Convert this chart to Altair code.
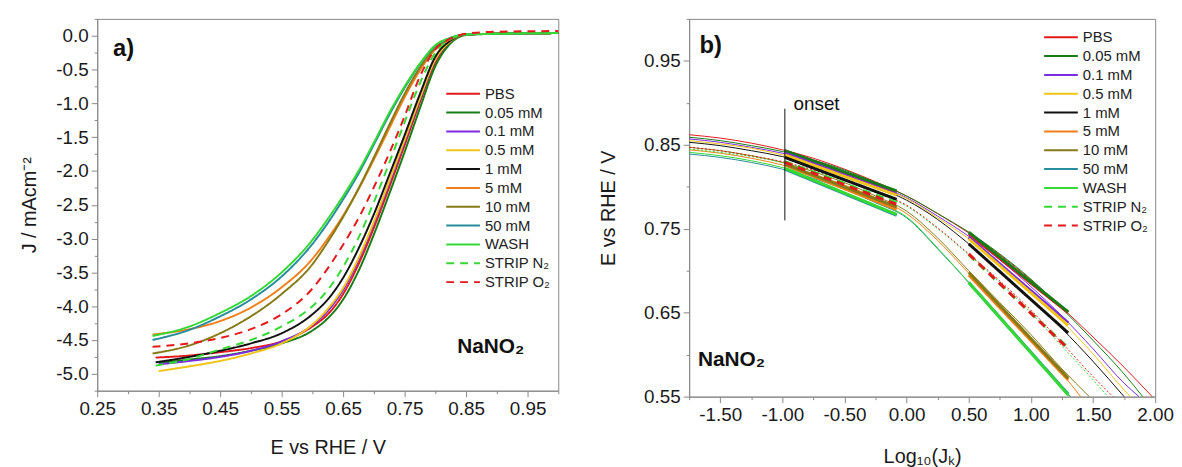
import altair as alt
import pandas as pd

FONT = "Liberation Sans"

SERIES = ["PBS", "0.05 mM", "0.1 mM", "0.5 mM", "1 mM", "5 mM", "10 mM",
          "50 mM", "WASH", "STRIP N₂", "STRIP O₂"]
COLORS = ["#e3191c", "#167d16", "#7b2be0", "#f2c418", "#111111", "#ef7f1a",
          "#857a16", "#278c9b", "#35d935", "#35d935", "#e3191c"]
DASHES = [[1, 0]] * 9 + [[8, 6], [8, 6]]

# ---------------- panel a : LSV curves ----------------
E_GRID = [0.35, 0.40, 0.45, 0.50, 0.55, 0.60, 0.625, 0.65, 0.675, 0.70,
          0.725, 0.75, 0.775, 0.80, 0.825, 0.85, 0.90, 1.00]
START_E = [0.345, 0.35, 0.35, 0.35, 0.345, 0.34, 0.34, 0.34, 0.34, 0.345, 0.34]

J_PBS = [-4.76, -4.73, -4.68, -4.62, -4.52, -4.30, -4.12, -3.82, -3.38, -2.84,
         -2.24, -1.62, -0.98, -0.40, -0.09, 0.02, 0.03, 0.04]
J_005 = [-4.84, -4.79, -4.74, -4.66, -4.55, -4.36, -4.18, -3.90, -3.48, -2.94,
         -2.34, -1.72, -1.07, -0.45, -0.11, 0.01, 0.03, 0.04]
J_01 = [-4.86, -4.81, -4.75, -4.66, -4.52, -4.28, -4.07, -3.76, -3.32, -2.78,
        -2.18, -1.57, -0.94, -0.36, -0.08, 0.02, 0.03, 0.04]
J_05 = [-4.96, -4.89, -4.81, -4.70, -4.55, -4.27, -4.04, -3.73, -3.29, -2.75,
        -2.15, -1.54, -0.92, -0.35, -0.08, 0.02, 0.03, 0.04]
J_1 = [-4.83, -4.75, -4.66, -4.55, -4.40, -4.12, -3.90, -3.58, -3.15, -2.64,
       -2.06, -1.47, -0.86, -0.31, -0.07, 0.02, 0.03, 0.04]
J_5 = [-4.42, -4.34, -4.22, -4.02, -3.72, -3.30, -3.00, -2.66, -2.27, -1.83,
       -1.37, -0.91, -0.51, -0.20, -0.05, 0.02, 0.03, 0.04]
J_10 = [-4.70, -4.58, -4.40, -4.15, -3.82, -3.38, -3.05, -2.68, -2.26, -1.80,
        -1.32, -0.86, -0.47, -0.18, -0.04, 0.02, 0.03, 0.04]
J_50 = [-4.50, -4.35, -4.15, -3.90, -3.56, -3.08, -2.77, -2.42, -2.04, -1.61,
        -1.17, -0.77, -0.42, -0.15, -0.03, 0.02, 0.03, 0.04]
J_WASH = [-4.44, -4.30, -4.10, -3.85, -3.50, -3.02, -2.71, -2.37, -2.00, -1.58,
          -1.14, -0.75, -0.41, -0.14, -0.03, 0.02, 0.03, 0.04]
J_N2 = [-4.88, -4.78, -4.64, -4.50, -4.30, -4.00, -3.76, -3.42, -2.99, -2.46,
        -1.88, -1.28, -0.70, -0.25, -0.05, 0.02, 0.03, 0.04]
J_O2 = [-4.60, -4.55, -4.47, -4.34, -4.12, -3.74, -3.44, -3.09, -2.70, -2.24,
        -1.74, -1.19, -0.60, -0.20, -0.04, 0.03, 0.06, 0.07]
J_A = [J_PBS, J_005, J_01, J_05, J_1, J_5, J_10, J_50, J_WASH, J_N2, J_O2]

# ---------------- panel b : Tafel plots ----------------
L_GRID = [-1.75, -1.5, -1.25, -1.0, -0.75, -0.5, -0.25, 0.0, 0.25, 0.5,
          0.75, 1.0, 1.25, 1.5, 1.75]
V_PBS = [0.862, 0.858, 0.852, 0.844, 0.834, 0.821, 0.806, 0.789, 0.768, 0.745,
         0.719, 0.689, 0.656, 0.621, 0.585]
V_005 = [0.859, 0.855, 0.849, 0.842, 0.832, 0.820, 0.805, 0.789, 0.768, 0.746,
         0.720, 0.690, 0.655, 0.617, 0.577]
V_01 = [0.857, 0.853, 0.847, 0.840, 0.830, 0.818, 0.803, 0.787, 0.765, 0.741,
        0.713, 0.681, 0.646, 0.607, 0.566]
V_05 = [0.855, 0.851, 0.846, 0.838, 0.829, 0.817, 0.802, 0.786, 0.763, 0.738,
        0.709, 0.676, 0.640, 0.601, 0.558]
V_1 = [0.853, 0.849, 0.843, 0.836, 0.826, 0.814, 0.800, 0.784, 0.761, 0.732,
       0.700, 0.666, 0.631, 0.592]
V_5 = [0.844, 0.840, 0.834, 0.826, 0.815, 0.802, 0.787, 0.768, 0.736, 0.697,
       0.659, 0.620, 0.578]
V_10 = [0.847, 0.843, 0.837, 0.829, 0.818, 0.805, 0.789, 0.771, 0.739, 0.700,
        0.662, 0.624, 0.583]
V_50 = [0.839, 0.835, 0.829, 0.821, 0.810, 0.797, 0.781, 0.763, 0.726, 0.686,
        0.645, 0.603, 0.561]
V_WASH = [0.841, 0.837, 0.831, 0.823, 0.812, 0.798, 0.782, 0.764, 0.727, 0.686,
          0.644, 0.601, 0.560]
V_N2 = [0.845, 0.841, 0.836, 0.829, 0.819, 0.807, 0.793, 0.777, 0.750, 0.719,
        0.686, 0.650, 0.610, 0.570]
V_O2 = [0.847, 0.843, 0.837, 0.830, 0.820, 0.808, 0.794, 0.778, 0.751, 0.720,
        0.688, 0.653, 0.614, 0.574]
V_B = [V_PBS, V_005, V_01, V_05, V_1, V_5, V_10, V_50, V_WASH, V_N2, V_O2]
# log value where each curve leaves the plot at 0.55 V
L_END = [1.976, 1.90, 1.87, 1.80, 1.75, 1.40, 1.47, 1.32, 1.31, 1.62, 1.66]
V_END = 0.55

SEG1_L = [-0.98, -0.08]
SEG2_L = [0.50, 1.30]
SEG1_V = [[0.843, 0.794], [0.843, 0.795], [0.840, 0.791], [0.838, 0.790],
          [0.835, 0.785], [0.826, 0.773], [0.827, 0.776], [0.821, 0.766],
          [0.822, 0.767], [0.830, 0.781], [0.829, 0.779]]
SEG2_V = [[0.744, 0.650], [0.746, 0.651], [0.740, 0.638], [0.738, 0.635],
          [0.732, 0.626], [0.695, 0.570], [0.698, 0.572], [0.686, 0.553],
          [0.686, 0.552], [0.719, 0.608], [0.720, 0.607]]

ONSET_L = -0.98
ONSET_V = [0.893, 0.760]

# ticks (major ticks carry labels, minor ticks are short and unlabeled)
XA_MAJOR = [0.25, 0.35, 0.45, 0.55, 0.65, 0.75, 0.85, 0.95]
XA_MINOR = [0.30, 0.40, 0.50, 0.60, 0.70, 0.80, 0.90, 1.00]
YA_MAJOR = [0.0, -0.5, -1.0, -1.5, -2.0, -2.5, -3.0, -3.5, -4.0, -4.5, -5.0]
YA_MINOR = [0.25, -0.25, -0.75, -1.25, -1.75, -2.25, -2.75, -3.25, -3.75,
            -4.25, -4.75, -5.25]
XB_MAJOR = [-1.5, -1.0, -0.5, 0.0, 0.5, 1.0, 1.5, 2.0]
XB_MINOR = [-1.75, -1.25, -0.75, -0.25, 0.25, 0.75, 1.25, 1.75]
YB_MAJOR = [0.55, 0.65, 0.75, 0.85, 0.95]
YB_MINOR = [0.60, 0.70, 0.80, 0.90, 1.00]

# ---------------- data frames ----------------
rows = []
for s, e0, js in zip(SERIES, START_E, J_A):
    es = [e0] + E_GRID[1:]
    for e, j in zip(es, js):
        rows.append({"series": s, "E": e, "J": j})
df_a = pd.DataFrame(rows)

rows = []
for s, vs, le in zip(SERIES, V_B, L_END):
    for l, v in zip(L_GRID, vs):
        rows.append({"series": s, "L": l, "V": v})
    rows.append({"series": s, "L": le, "V": V_END})
df_thin = pd.DataFrame(rows)

rows = []
for s, v1, v2 in zip(SERIES, SEG1_V, SEG2_V):
    for l, v in zip(SEG1_L, v1):
        rows.append({"series": s, "seg": "1", "L": l, "V": v})
    for l, v in zip(SEG2_L, v2):
        rows.append({"series": s, "seg": "2", "L": l, "V": v})
df_thick = pd.DataFrame(rows)

STRIPS = ["STRIP N₂", "STRIP O₂"]


def major_axis(values, fmt, title, title_pad, orient):
    label = f"(datum.value < -0.0001 ? '-' : '') + format(abs(datum.value), '{fmt}')"
    return alt.Axis(values=values, labelExpr=label, tickSize=6, orient=orient,
                    title=title, titlePadding=title_pad, labelOverlap=False,
                    labelFlush=False, grid=False)


def minor_axis(values, orient):
    return alt.Axis(values=values, labels=False, tickSize=3, orient=orient,
                    title=None, domain=False, grid=False)


def make_legend(x, y):
    return alt.Legend(title=None, orient="none", legendX=x, legendY=y,
                      symbolType="stroke", symbolSize=1156, symbolStrokeWidth=2,
                      labelFontSize=15, labelFont=FONT, labelColor="#222",
                      clipHeight=17, rowPadding=2, padding=0, labelOffset=4)


color_scale = alt.Scale(domain=SERIES, range=COLORS)
dash_scale = alt.Scale(domain=SERIES, range=DASHES)

# ---------------- panel a chart ----------------
sxa = alt.Scale(domain=[0.25, 1.0], nice=False, zero=False)
sya = alt.Scale(domain=[-5.25, 0.25], nice=False, zero=False)
leg_a = make_legend(351, 67)

lines_a = alt.Chart(df_a).mark_line(strokeWidth=2, interpolate="monotone").encode(
    x=alt.X("E:Q", scale=sxa, axis=major_axis(XA_MAJOR, ".2f", "E vs RHE / V", 19, "bottom")),
    y=alt.Y("J:Q", scale=sya, axis=major_axis(YA_MAJOR, ".1f", "J / mAcm⁻²", 17, "left")),
    color=alt.Color("series:N", scale=color_scale, legend=leg_a),
    strokeDash=alt.StrokeDash("series:N", scale=dash_scale, legend=leg_a),
)
minor_a = alt.Chart(df_a).mark_point(opacity=0).encode(
    x=alt.X("E:Q", scale=sxa, axis=minor_axis(XA_MINOR, "bottom")),
    y=alt.Y("J:Q", scale=sya, axis=minor_axis(YA_MINOR, "left")),
)

lab_a = alt.Chart(pd.DataFrame({"E": [0.2755], "J": [-0.20], "t": ["a)"]})).mark_text(
    align="left", baseline="middle", fontSize=24, fontWeight="bold", font=FONT,
    color="#111").encode(x=alt.X("E:Q", scale=sxa, axis=None),
                         y=alt.Y("J:Q", scale=sya, axis=None), text="t:N")
na_a = alt.Chart(pd.DataFrame({"E": [0.89], "J": [-4.61], "t": ["NaNO₂"]})).mark_text(
    align="center", baseline="middle", fontSize=21, fontWeight="bold", font=FONT,
    color="#111").encode(x=alt.X("E:Q", scale=sxa, axis=None),
                         y=alt.Y("J:Q", scale=sya, axis=None), text="t:N")

panel_a = alt.layer(lines_a, minor_a, lab_a, na_a).resolve_axis(
    x="independent", y="independent").properties(width=465, height=375)

# ---------------- panel b chart ----------------
sxb = alt.Scale(domain=[-1.75, 2.0], nice=False, zero=False)
syb = alt.Scale(domain=[0.55, 1.0], nice=False, zero=False)
xb_plain = alt.X("L:Q", scale=sxb, axis=None)
yb_plain = alt.Y("V:Q", scale=syb, axis=None)
leg_b = make_legend(357, 10)

thin_solid = alt.Chart(df_thin).transform_filter(
    alt.FieldOneOfPredicate(field="series", oneOf=SERIES[:9])
).mark_line(strokeWidth=1, interpolate="monotone").encode(
    x=xb_plain, y=yb_plain,
    color=alt.Color("series:N", scale=color_scale, legend=leg_b))

thin_dot = alt.Chart(df_thin).transform_filter(
    alt.FieldOneOfPredicate(field="series", oneOf=STRIPS)
).mark_line(strokeWidth=1, interpolate="monotone", strokeDash=[2, 2]).encode(
    x=xb_plain, y=yb_plain,
    color=alt.Color("series:N", scale=color_scale, legend=leg_b))

thick = alt.Chart(df_thick).mark_line(strokeWidth=3).encode(
    x=alt.X("L:Q", scale=sxb, axis=major_axis(XB_MAJOR, ".2f", "Log₁₀(Jₖ)", 22, "bottom")),
    y=alt.Y("V:Q", scale=syb, axis=major_axis(YB_MAJOR, ".2f", "E vs RHE / V", 25, "left")),
    color=alt.Color("series:N", scale=color_scale, legend=leg_b),
    strokeDash=alt.StrokeDash("series:N", scale=dash_scale, legend=leg_b),
    detail="seg:N")

minor_b = alt.Chart(df_thin).mark_point(opacity=0).encode(
    x=alt.X("L:Q", scale=sxb, axis=minor_axis(XB_MINOR, "bottom")),
    y=alt.Y("V:Q", scale=syb, axis=minor_axis(YB_MINOR, "left")),
)

onset = alt.Chart(pd.DataFrame({"L": [ONSET_L], "V": [ONSET_V[0]], "V2": [ONSET_V[1]]})
                  ).mark_rule(color="#111", strokeWidth=1).encode(
    x=xb_plain, y=yb_plain, y2="V2:Q")

onset_t = alt.Chart(pd.DataFrame({"L": [-0.91], "V": [0.899], "t": ["onset"]})).mark_text(
    align="left", baseline="middle", fontSize=19, font=FONT, color="#111").encode(
    x=xb_plain, y=yb_plain, text="t:N")
lab_b = alt.Chart(pd.DataFrame({"L": [-1.666], "V": [0.968], "t": ["b)"]})).mark_text(
    align="left", baseline="middle", fontSize=24, fontWeight="bold", font=FONT,
    color="#111").encode(x=xb_plain, y=yb_plain, text="t:N")
na_b = alt.Chart(pd.DataFrame({"L": [-1.41], "V": [0.593], "t": ["NaNO₂"]})).mark_text(
    align="center", baseline="middle", fontSize=21, fontWeight="bold", font=FONT,
    color="#111").encode(x=xb_plain, y=yb_plain, text="t:N")

panel_b = alt.layer(thin_solid, thin_dot, thick, minor_b, onset, onset_t, lab_b, na_b
                    ).resolve_axis(x="independent", y="independent"
                                   ).properties(width=470, height=381)

chart = alt.hconcat(panel_a, panel_b, spacing=35).resolve_scale(
    color="independent", strokeDash="independent"
).resolve_legend(
    color="independent", strokeDash="independent"
).properties(
    padding={"left": 10, "top": 8, "right": 0, "bottom": 0}
).configure(font=FONT).configure_view(
    stroke="#888", strokeWidth=1
).configure_axis(
    domainColor="#888", tickColor="#888", labelColor="#1a1a1a",
    titleColor="#1a1a1a", labelFont=FONT, titleFont=FONT, labelFontSize=19,
    titleFontSize=20, titleFontWeight="normal", labelPadding=3
)

chart.save("out.html", embed_options={"renderer": "svg", "actions": False})
